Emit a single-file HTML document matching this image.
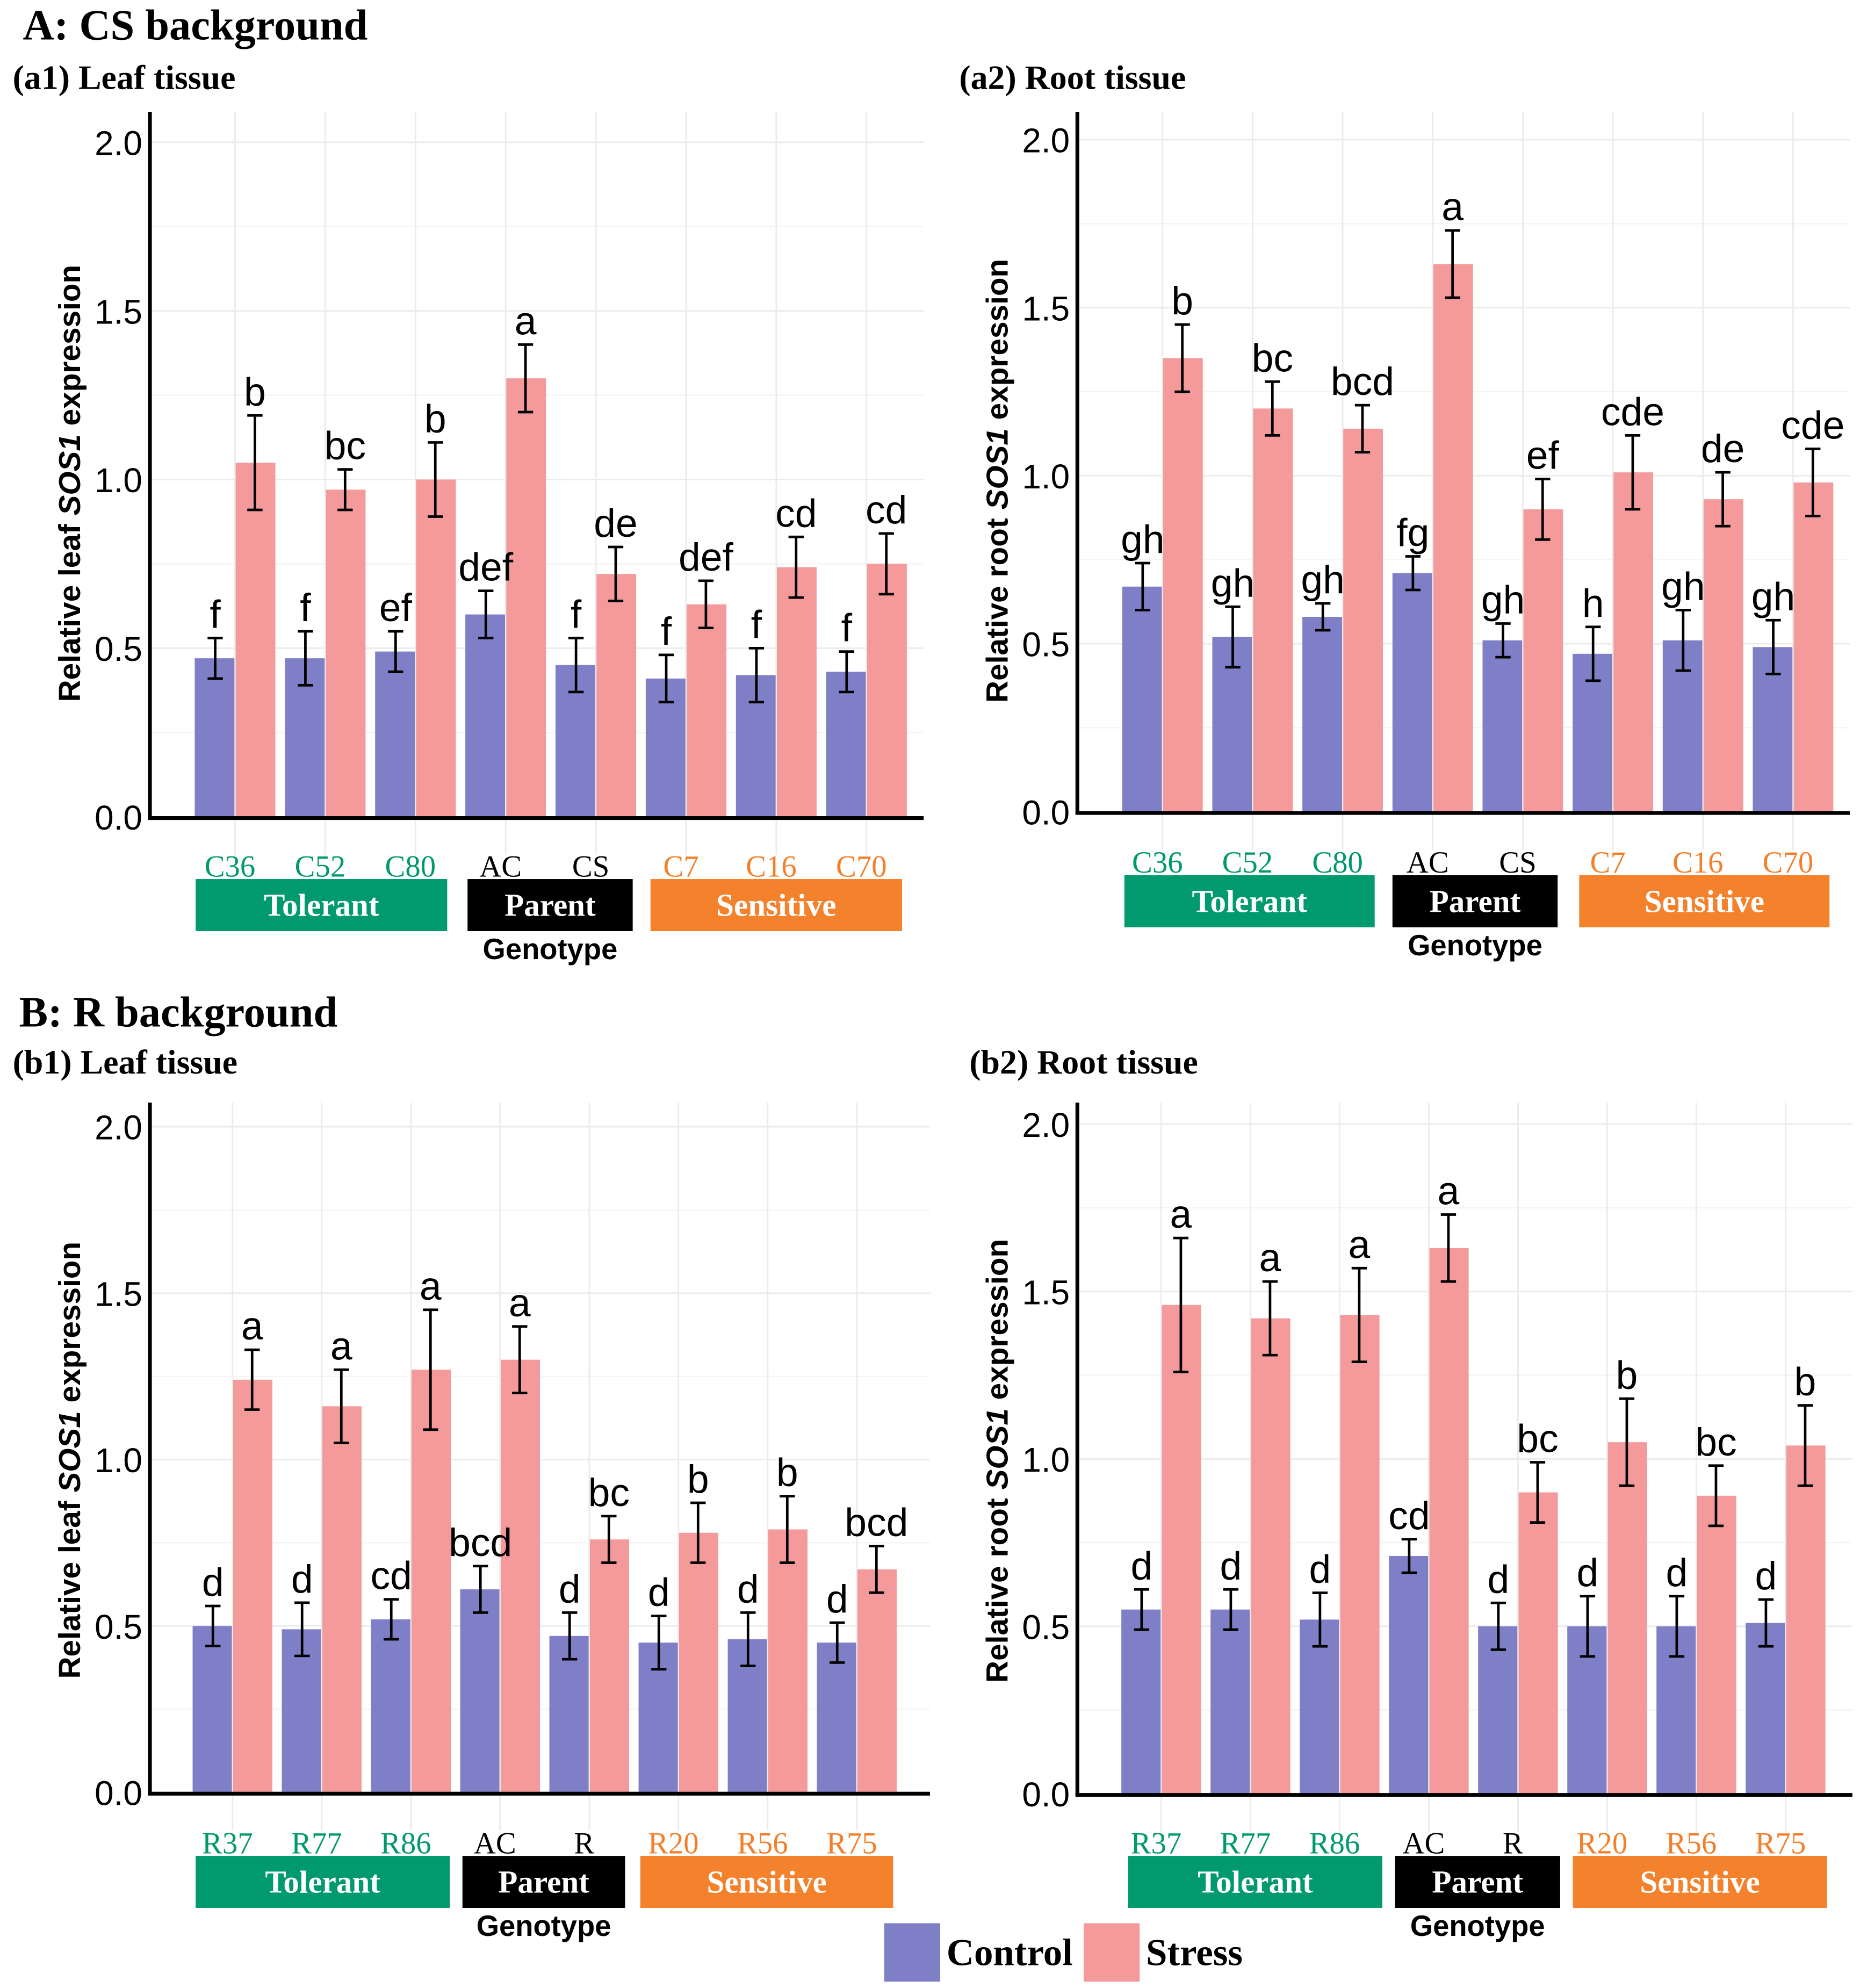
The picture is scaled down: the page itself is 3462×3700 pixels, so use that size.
<!DOCTYPE html>
<html><head><meta charset="utf-8"><style>
html,body{margin:0;padding:0;background:#fff;}
svg{display:block;}
</style></head><body>
<svg id="fig" width="3462" height="3700" viewBox="0 0 1464 1565" preserveAspectRatio="none" xmlns="http://www.w3.org/2000/svg">
<rect x="0" y="0" width="1464" height="1565" fill="#fff"/>
<g font-family="'Liberation Serif',serif" font-weight="bold" fill="#000">
<text x="18" y="31" font-size="34">A: CS background</text>
<text x="10" y="70" font-size="27">(a1) Leaf tissue</text>
<text x="755" y="70" font-size="27">(a2) Root tissue</text>
<text x="15" y="808" font-size="34">B: R background</text>
<text x="10" y="845" font-size="27">(b1) Leaf tissue</text>
<text x="763" y="845" font-size="27">(b2) Root tissue</text>
</g>
<g id="panels"></g>
<rect x="696" y="1514" width="44" height="46" fill="#7f7fc8"/>
<text x="745" y="1547" font-family="'Liberation Serif',serif" font-weight="bold" font-size="30">Control</text>
<rect x="853" y="1514" width="44" height="46" fill="#f49a9a"/>
<text x="902" y="1547" font-family="'Liberation Serif',serif" font-weight="bold" font-size="30">Stress</text>
</svg>
<script>
// ---- data ----
const catsA = ["C36","C52","C80","AC","CS","C7","C16","C70"];
const catsB = ["R37","R77","R86","AC","R","R20","R56","R75"];
const catGroup = ["t","t","t","p","p","s","s","s"];
const ticks = [0,0.5,1.0,1.5,2.0];
const tickLabels = ["0.0","0.5","1.0","1.5","2.0"];

const a1Control = [0.47,0.47,0.49,0.60,0.45,0.41,0.42,0.43];
const a1ControlErr = [0.06,0.08,0.06,0.07,0.08,0.07,0.08,0.06];
const a1Stress = [1.05,0.97,1.00,1.30,0.72,0.63,0.74,0.75];
const a1StressErr = [0.14,0.06,0.11,0.10,0.08,0.07,0.09,0.09];
const a1ControlLet = ["f","f","ef","def","f","f","f","f"];
const a1StressLet = ["b","bc","b","a","de","def","cd","cd"];

const a2Control = [0.67,0.52,0.58,0.71,0.51,0.47,0.51,0.49];
const a2ControlErr = [0.07,0.09,0.04,0.05,0.05,0.08,0.09,0.08];
const a2Stress = [1.35,1.20,1.14,1.63,0.90,1.01,0.93,0.98];
const a2StressErr = [0.10,0.08,0.07,0.10,0.09,0.11,0.08,0.10];
const a2ControlLet = ["gh","gh","gh","fg","gh","h","gh","gh"];
const a2StressLet = ["b","bc","bcd","a","ef","cde","de","cde"];

const b1Control = [0.50,0.49,0.52,0.61,0.47,0.45,0.46,0.45];
const b1ControlErr = [0.06,0.08,0.06,0.07,0.07,0.08,0.08,0.06];
const b1Stress = [1.24,1.16,1.27,1.30,0.76,0.78,0.79,0.67];
const b1StressErr = [0.09,0.11,0.18,0.10,0.07,0.09,0.10,0.07];
const b1ControlLet = ["d","d","cd","bcd","d","d","d","d"];
const b1StressLet = ["a","a","a","a","bc","b","b","bcd"];

const b2Control = [0.55,0.55,0.52,0.71,0.50,0.50,0.50,0.51];
const b2ControlErr = [0.06,0.06,0.08,0.05,0.07,0.09,0.09,0.07];
const b2Stress = [1.46,1.42,1.43,1.63,0.90,1.05,0.89,1.04];
const b2StressErr = [0.20,0.11,0.14,0.10,0.09,0.13,0.09,0.12];
const b2ControlLet = ["d","d","d","cd","d","d","d","d"];
const b2StressLet = ["a","a","a","a","bc","b","bc","b"];

const NS="http://www.w3.org/2000/svg";
const root=document.getElementById('panels');
function mk(tag,attrs,parent,text){const e=document.createElementNS(NS,tag);for(const k in attrs)e.setAttribute(k,attrs[k]);if(text!==undefined)e.textContent=text;(parent||root).appendChild(e);return e;}
const groupColor={t:"#00996b",p:"#000",s:"#f47f2a"};

function panel(id,L,cats,tissue,ctrl,ctrlE,str,strE,cLet,sLet){
  const g=mk('g',{});
  
  
  const y=v=>L.y0-(L.y0-L.y2)*v/2;
  const x=i=>L.c0+i*L.step;
  for(let k=0;k<ticks.length;k++){
    mk('line',{x1:L.ax,x2:L.right,y1:y(ticks[k]),y2:y(ticks[k]),stroke:"#ebebeb","stroke-width":1.2},g);
    if(k<ticks.length-1) mk('line',{x1:L.ax,x2:L.right,y1:y(ticks[k]+0.25),y2:y(ticks[k]+0.25),stroke:"#f4f4f4","stroke-width":1},g);
  }
  for(let i=0;i<cats.length;i++) mk('line',{x1:x(i),x2:x(i),y1:L.top,y2:L.y0+30,stroke:"#ebebeb","stroke-width":1.2},g);
  const bw=L.step*0.44;
  for(let i=0;i<cats.length;i++){
    const cb=mk('rect',{x:x(i)-bw-0.5,y:y(ctrl[i]),width:bw,height:y(0)-y(ctrl[i]),fill:"#7f7fc8"},g);
    
    
    const sb=mk('rect',{x:x(i)+0.5,y:y(str[i]),width:bw,height:y(0)-y(str[i]),fill:"#f49a9a"},g);
    
    
    [[x(i)-bw/2,ctrl[i],ctrlE[i],cLet[i]],[x(i)+bw/2,str[i],strE[i],sLet[i]]].forEach(([cx,v,e,l])=>{
      const eb=mk('path',{d:`M${cx-6},${y(v+e)}H${cx+6}M${cx},${y(v+e)}V${y(v-e)}M${cx-6},${y(v-e)}H${cx+6}`,stroke:"#000","stroke-width":2,fill:"none"},g);
      
      
      const lt=mk('text',{x:cx,y:y(v+e)-8,"text-anchor":"middle","font-family":"'Liberation Sans',sans-serif","font-size":31},g,l);
      
      
    });
  }
  mk('line',{x1:L.ax,x2:L.ax,y1:L.top,y2:L.y0+2,stroke:"#000","stroke-width":3},g);
  mk('line',{x1:L.ax-1.5,x2:L.right,y1:L.y0+1,y2:L.y0+1,stroke:"#000","stroke-width":3},g);
  for(let k=0;k<ticks.length;k++){
    const t=mk('text',{x:L.ax-6,y:y(ticks[k])+10,"text-anchor":"end","font-family":"'Liberation Sans',sans-serif","font-size":27},g,tickLabels[k]);
    
    
  }
  const yt=mk('text',{transform:`translate(${L.ax-55},${(L.top+L.y0)/2+L.tyo}) rotate(-90)`,"text-anchor":"middle","font-family":"'Liberation Sans',sans-serif","font-weight":"bold","font-size":24},g);
  
  
  yt.innerHTML=`Relative ${tissue} <tspan font-style="italic">SOS1</tspan> expression`;
  for(let i=0;i<cats.length;i++){
    const t=mk('text',{x:x(i)-4,y:L.lab-2,"text-anchor":"middle","font-family":"'Liberation Serif',serif","font-size":24,fill:groupColor[catGroup[i]]},g,cats[i]);
    
    
  }
  const names=["Tolerant","Parent","Sensitive"],cols=["#009a6e","#000","#f4812c"];
  L.boxes.forEach((b,k)=>{
    const r=mk('rect',{x:b[0],y:L.lab,width:b[1]-b[0],height:41,fill:cols[k]},g);
    
    
    const t=mk('text',{x:(b[0]+b[1])/2,y:L.lab+29,"text-anchor":"middle","font-family":"'Liberation Serif',serif","font-weight":"bold","font-size":25,fill:"#fff"},g,names[k]);
    
    
  });
  const gt=mk('text',{x:(L.boxes[1][0]+L.boxes[1][1])/2,y:L.lab+63,"text-anchor":"middle","font-family":"'Liberation Sans',sans-serif","font-weight":"bold","font-size":23},g,"Genotype");
  
  
}
panel('a1',{ax:118,top:88,y0:643,y2:112,right:727,c0:185,step:71,lab:692,tyo:15,boxes:[[154,352],[368,498],[512,710]]},catsA,"leaf",a1Control,a1ControlErr,a1Stress,a1StressErr,a1ControlLet,a1StressLet);
panel('a2',{ax:848,top:88,y0:639,y2:110,right:1456,c0:915,step:70.9,lab:689,tyo:15,boxes:[[885,1082],[1096,1226],[1243,1440]]},catsA,"root",a2Control,a2ControlErr,a2Stress,a2StressErr,a2ControlLet,a2StressLet);
panel('b1',{ax:118,top:868,y0:1411,y2:887,right:732,c0:183,step:70.2,lab:1461,tyo:10,boxes:[[154,354],[364,492],[504,703]]},catsB,"leaf",b1Control,b1ControlErr,b1Stress,b1StressErr,b1ControlLet,b1StressLet);
panel('b2',{ax:848,top:868,y0:1412,y2:885,right:1458,c0:914,step:70.2,lab:1461,tyo:10,boxes:[[888,1088],[1098,1228],[1238,1438]]},catsB,"root",b2Control,b2ControlErr,b2Stress,b2StressErr,b2ControlLet,b2StressLet);
</script>
</body></html>
